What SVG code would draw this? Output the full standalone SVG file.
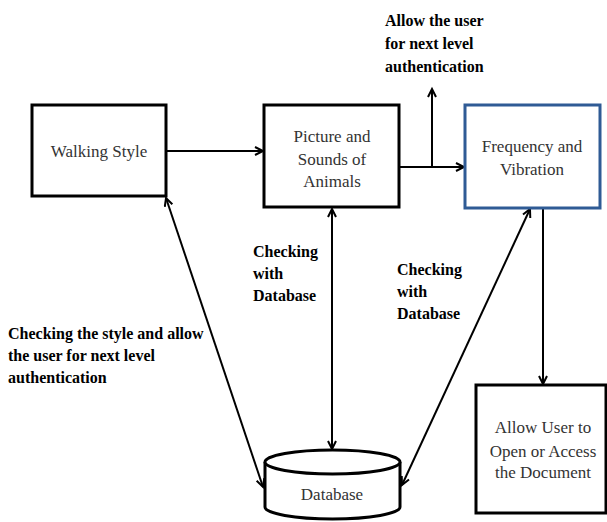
<svg xmlns="http://www.w3.org/2000/svg" width="607" height="522" viewBox="0 0 607 522">
<style>
.box{fill:#fff;stroke:#000;stroke-width:3}
.lbl{font-family:'Liberation Serif','Times New Roman','DejaVu Serif',serif;font-size:17px;fill:#333;text-anchor:middle}
.bold{font-family:'Liberation Serif','Times New Roman','DejaVu Serif',serif;font-size:16px;font-weight:bold;fill:#000}
.con{fill:none;stroke:#000;stroke-width:2}
</style>
<defs>
<marker id="arr" markerUnits="userSpaceOnUse" markerWidth="12" markerHeight="12" refX="9" refY="5" orient="auto-start-reverse">
<path d="M1,1 L9,5 L1,9" fill="none" stroke="#000" stroke-width="2"/>
</marker>
</defs>
<rect width="607" height="522" fill="#fff"/>
<g id="connectors">
<path class="con" d="M166,151 L263,151" marker-end="url(#arr)"/>
<path class="con" d="M399,167 L464,167" marker-end="url(#arr)"/>
<path class="con" d="M432,167 L432,89" marker-end="url(#arr)"/>
<path class="con" d="M332,209 L332,449" marker-start="url(#arr)" marker-end="url(#arr)"/>
<path class="con" d="M166,198 L263,487" marker-start="url(#arr)" marker-end="url(#arr)"/>
<path class="con" d="M530,209 L402,485" marker-start="url(#arr)" marker-end="url(#arr)"/>
<path class="con" d="M543,209 L543,384" marker-end="url(#arr)"/>
</g>
<g id="walking">
<rect class="box" x="32" y="105" width="134" height="91"/>
<text class="lbl" font-family="Liberation Serif, serif" x="99" y="157">Walking Style</text>
</g>
<g id="picture">
<rect class="box" x="264" y="105" width="135" height="102"/>
<text class="lbl" font-family="Liberation Serif, serif" x="332" y="142">Picture and</text>
<text class="lbl" font-family="Liberation Serif, serif" x="332" y="165">Sounds of</text>
<text class="lbl" font-family="Liberation Serif, serif" x="332" y="187">Animals</text>
</g>
<g id="frequency">
<rect class="box" x="465" y="105" width="135" height="103" style="stroke:#2f5b95"/>
<text class="lbl" font-family="Liberation Serif, serif" x="532" y="152">Frequency and</text>
<text class="lbl" font-family="Liberation Serif, serif" x="532" y="175">Vibration</text>
</g>
<g id="allow">
<rect class="box" x="476" y="385" width="130" height="128"/>
<text class="lbl" font-family="Liberation Serif, serif" x="543" y="433">Allow User to</text>
<text class="lbl" font-family="Liberation Serif, serif" x="543" y="457">Open or Access</text>
<text class="lbl" font-family="Liberation Serif, serif" x="543" y="478">the Document</text>
</g>
<g id="database">
<path d="M265,462 L265,507 A67.5,12 0 0 0 400,507 L400,462" fill="#fff" stroke="#000" stroke-width="3"/>
<ellipse cx="332.5" cy="462" rx="67.5" ry="12" fill="#fff" stroke="#000" stroke-width="3"/>
<text class="lbl" font-family="Liberation Serif, serif" x="332" y="500">Database</text>
</g>
<g id="labels" font-family="Liberation Serif, serif">
<text class="bold"><tspan x="385" y="26">Allow the user</tspan><tspan x="385" y="49">for next level</tspan><tspan x="385" y="72">authentication</tspan></text>
<text class="bold"><tspan x="253" y="257">Checking</tspan><tspan x="253" y="279">with</tspan><tspan x="253" y="301">Database</tspan></text>
<text class="bold"><tspan x="397" y="275">Checking</tspan><tspan x="397" y="297">with</tspan><tspan x="397" y="319">Database</tspan></text>
<text class="bold"><tspan x="8" y="339">Checking the style and allow</tspan><tspan x="8" y="361">the user for next level</tspan><tspan x="8" y="383">authentication</tspan></text>
</g>
</svg>
